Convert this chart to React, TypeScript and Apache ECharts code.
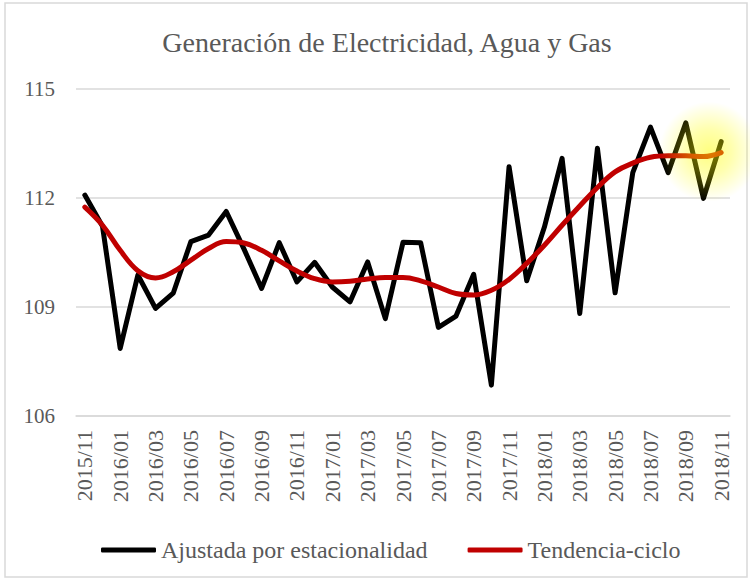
import React, { useEffect, useRef } from "react";
import * as echarts from "echarts";

const titleText = "Generación de Electricidad, Agua y Gas";
const seriesNames = ["Ajustada por estacionalidad", "Tendencia-ciclo"];

const categories = [
  "2015/11", "2015/12",
  "2016/01", "2016/02", "2016/03", "2016/04", "2016/05", "2016/06",
  "2016/07", "2016/08", "2016/09", "2016/10", "2016/11", "2016/12",
  "2017/01", "2017/02", "2017/03", "2017/04", "2017/05", "2017/06",
  "2017/07", "2017/08", "2017/09", "2017/10", "2017/11", "2017/12",
  "2018/01", "2018/02", "2018/03", "2018/04", "2018/05", "2018/06",
  "2018/07", "2018/08", "2018/09", "2018/10", "2018/11",
];

const seasonallyAdjusted = [
  112.08, 111.22, 107.86, 109.88, 108.96, 109.38, 110.8, 110.98, 111.63,
  110.6, 109.51, 110.77, 109.69, 110.23, 109.55, 109.14, 110.24, 108.68,
  110.78, 110.77, 108.44, 108.75, 109.9, 106.85, 112.86, 109.72, 111.2,
  113.09, 108.82, 113.37, 109.39, 112.7, 113.95, 112.7, 114.07, 111.99,
  113.55,
];

const trendCycle = [
  111.75, 111.25, 110.56, 110.0, 109.8, 109.97, 110.29, 110.61, 110.8,
  110.76, 110.56, 110.27, 109.99, 109.78, 109.69, 109.71, 109.77, 109.81,
  109.81, 109.72, 109.55, 109.37, 109.33, 109.46, 109.76, 110.2, 110.7,
  111.25, 111.78, 112.29, 112.72, 112.96, 113.12, 113.16, 113.16, 113.14,
  113.25,
];

const yMin = 106;
const yMax = 115;
const yInterval = 3;

const FONT = "Liberation Serif";
const TEXT_COLOR = "#595959";

export default function App() {
  const ref = useRef<HTMLDivElement>(null);

  useEffect(() => {
    if (!ref.current) return;
    const chart = echarts.init(ref.current, undefined, { renderer: "svg" });
    const lastIdx = categories.length - 1;
    chart.setOption({
      animation: false,
      backgroundColor: "#ffffff",
      textStyle: { fontFamily: FONT },
      title: {
        text: titleText,
        left: 382,
        textAlign: "center",
        top: 23,
        textStyle: {
          fontFamily: FONT,
          fontSize: 28,
          fontWeight: "normal",
          color: TEXT_COLOR,
        },
      },
      graphic: [
        {
          type: "rect",
          shape: { x: 5, y: 3, width: 742, height: 574 },
          style: { fill: "none", stroke: "#d9d9d9", lineWidth: 1.5 },
          silent: true,
          z: -1,
        },
      ],
      legend: {
        top: 533,
        left: 96,
        itemWidth: 55,
        itemHeight: 5,
        itemGap: 40,
        icon: "roundRect",
        textStyle: {
          fontFamily: FONT,
          fontSize: 24,
          color: TEXT_COLOR,
          lineHeight: 24,
        },
        data: seriesNames,
      },
      grid: {
        left: 76,
        right: 20,
        top: 89,
        bottom: 164,
        containLabel: false,
      },
      xAxis: {
        type: "category",
        data: categories,
        boundaryGap: true,
        axisLine: { show: true, lineStyle: { color: "#d9d9d9", width: 1.5 } },
        axisTick: { show: false },
        axisLabel: {
          interval: 1,
          rotate: 90,
          margin: 14,
          fontFamily: FONT,
          fontSize: 22,
          color: TEXT_COLOR,
        },
        splitLine: { show: false },
      },
      yAxis: {
        type: "value",
        min: yMin,
        max: yMax,
        interval: yInterval,
        axisLine: { show: false },
        axisTick: { show: false },
        axisLabel: {
          margin: 21,
          fontFamily: FONT,
          fontSize: 21,
          color: TEXT_COLOR,
        },
        splitLine: { lineStyle: { color: "#d9d9d9", width: 1.5 } },
      },
      series: [
        {
          name: seriesNames[0],
          type: "line",
          data: seasonallyAdjusted,
          showSymbol: false,
          symbol: "none",
          smooth: false,
          color: "#000000",
          lineStyle: { color: "#000000", width: 5, join: "round", cap: "round" },
          z: 2,
          markPoint: {
            silent: true,
            label: { show: false },
            data: [
              {
                coord: [categories[lastIdx], seasonallyAdjusted[lastIdx]],
                symbol: "circle",
                symbolSize: 100,
                symbolOffset: [-12, 10],
                itemStyle: {
                  color: {
                    type: "radial",
                    x: 0.5,
                    y: 0.5,
                    r: 0.5,
                    colorStops: [
                      { offset: 0, color: "rgba(255,255,0,0.5)" },
                      { offset: 0.45, color: "rgba(255,255,0,0.32)" },
                      { offset: 1, color: "rgba(255,255,0,0)" },
                    ],
                  },
                },
              },
            ],
          },
        },
        {
          name: seriesNames[1],
          type: "line",
          data: trendCycle,
          showSymbol: false,
          symbol: "none",
          smooth: 0.4,
          color: "#C00000",
          lineStyle: { color: "#C00000", width: 5, join: "round", cap: "round" },
          z: 3,
        },
      ],
    });
    return () => chart.dispose();
  }, []);

  return (
    <div
      ref={ref}
      style={{ position: "absolute", left: 0, top: 0, width: 750, height: 580 }}
    />
  );
}
